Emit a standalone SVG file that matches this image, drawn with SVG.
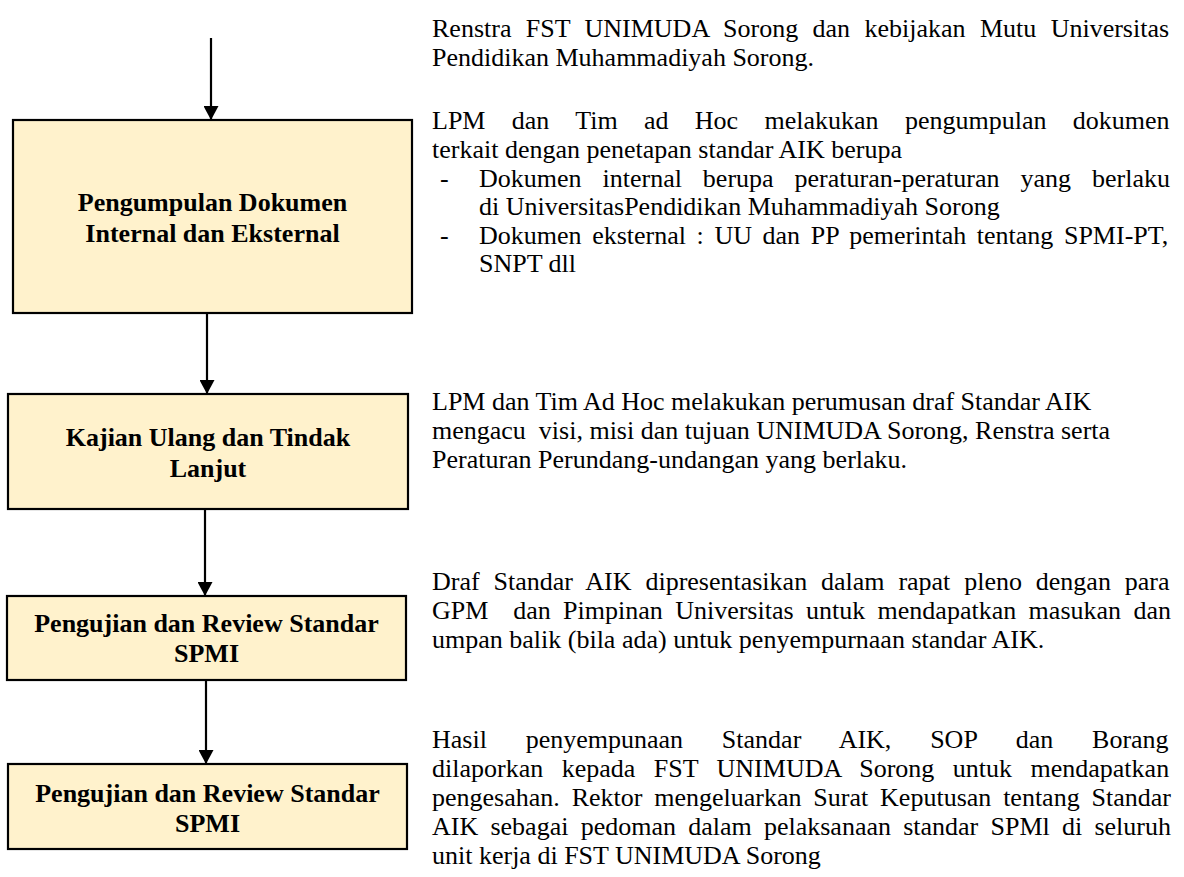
<svg xmlns="http://www.w3.org/2000/svg" width="1184" height="877" viewBox="0 0 1184 877">
<defs>
<marker id="ah" markerUnits="userSpaceOnUse" markerWidth="15" markerHeight="15" refX="14" refY="7.5" orient="auto">
<path d="M0,0 L14,7.5 L0,15 z" fill="#000"/>
</marker>
<style>
.box{fill:#FFF2CC;stroke:#000;stroke-width:2.2}
.bt{font-family:"Liberation Serif","Times New Roman",serif;font-size:26px;font-weight:bold;fill:#000;text-anchor:middle}
.t{font-family:"Liberation Serif","Times New Roman",serif;font-size:26px;fill:#000;white-space:pre}
.conn{stroke:#000;stroke-width:2.2;fill:none;marker-end:url(#ah)}
</style>
</defs>
<rect width="1184" height="877" fill="#fff"/>
<g id="connectors">
<line class="conn" x1="211" y1="38" x2="211" y2="120"/>
<line class="conn" x1="207" y1="313" x2="207" y2="394"/>
<line class="conn" x1="205" y1="509" x2="205" y2="596"/>
<line class="conn" x1="206" y1="680" x2="206" y2="764"/>
</g>
<g id="node1">
<rect class="box" x="13" y="120" width="399" height="193"/>
<text class="bt" x="212.5" y="211">Pengumpulan Dokumen</text>
<text class="bt" x="212.5" y="242">Internal dan Eksternal</text>
</g>
<g id="node2">
<rect class="box" x="8" y="394" width="400" height="115"/>
<text class="bt" x="208" y="446">Kajian Ulang dan Tindak</text>
<text class="bt" x="208" y="477">Lanjut</text>
</g>
<g id="node3">
<rect class="box" x="7" y="596" width="399" height="84"/>
<text class="bt" x="206.5" y="632">Pengujian dan Review Standar</text>
<text class="bt" x="206.5" y="662">SPMI</text>
</g>
<g id="node4">
<rect class="box" x="8" y="764" width="399" height="85"/>
<text class="bt" x="207.5" y="802">Pengujian dan Review Standar</text>
<text class="bt" x="207.5" y="832">SPMI</text>
</g>
<g id="desc1">
<text class="t" x="432" y="37" style="word-spacing:7.87px">Renstra FST UNIMUDA Sorong dan kebijakan Mutu Universitas</text>
<text class="t" x="432" y="66">Pendidikan Muhammadiyah Sorong.</text>
</g>
<g id="desc2">
<text class="t" x="432" y="129" style="word-spacing:19.84px">LPM dan Tim ad Hoc melakukan pengumpulan dokumen</text>
<text class="t" x="432" y="158">terkait dengan penetapan standar AIK berupa</text>
<text class="t" x="440" y="187">-</text>
<text class="t" x="479" y="187" style="word-spacing:14.46px">Dokumen internal berupa peraturan-peraturan yang berlaku</text>
<text class="t" x="479" y="215">di UniversitasPendidikan Muhammadiyah Sorong</text>
<text class="t" x="440" y="244">-</text>
<text class="t" x="479" y="244" style="word-spacing:4.1px">Dokumen eksternal : UU dan PP pemerintah tentang SPMI-PT,</text>
<text class="t" x="479" y="272">SNPT dll</text>
</g>
<g id="desc3">
<text class="t" x="432" y="410">LPM dan Tim Ad Hoc melakukan perumusan draf Standar AIK</text>
<text class="t" x="432" y="439">mengacu  visi, misi dan tujuan UNIMUDA Sorong, Renstra serta</text>
<text class="t" x="432" y="468">Peraturan Perundang-undangan yang berlaku.</text>
</g>
<g id="desc4">
<text class="t" x="432" y="590" style="word-spacing:7.36px">Draf Standar AIK dipresentasikan dalam rapat pleno dengan para</text>
<text class="t" x="432" y="619" style="word-spacing:5.9px">GPM  dan Pimpinan Universitas untuk mendapatkan masukan dan</text>
<text class="t" x="432" y="648">umpan balik (bila ada) untuk penyempurnaan standar AIK.</text>
</g>
<g id="desc5">
<text class="t" x="432" y="748" style="word-spacing:32.3px">Hasil penyempunaan Standar AIK, SOP dan Borang</text>
<text class="t" x="432" y="777" style="word-spacing:11.97px">dilaporkan kepada FST UNIMUDA Sorong untuk mendapatkan</text>
<text class="t" x="432" y="806" style="word-spacing:5.35px">pengesahan. Rektor mengeluarkan Surat Keputusan tentang Standar</text>
<text class="t" x="432" y="835" style="word-spacing:5.73px">AIK sebagai pedoman dalam pelaksanaan standar SPMl di seluruh</text>
<text class="t" x="432" y="864">unit kerja di FST UNIMUDA Sorong</text>
</g>
</svg>
